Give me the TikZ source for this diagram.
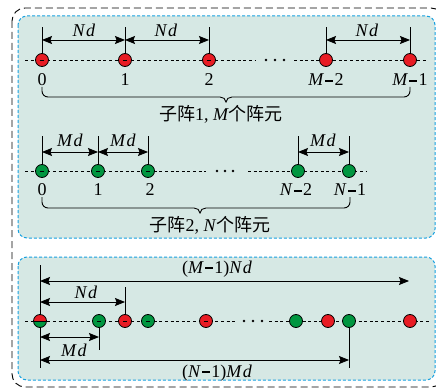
\documentclass[tikz,border=0pt]{standalone}
\usepackage{fontspec}
\setmainfont{Liberation Serif}
\newfontfamily\cjk{Noto Sans CJK SC}
\usetikzlibrary{arrows.meta}
\definecolor{panelfill}{RGB}{214,232,228}
\definecolor{paneledge}{RGB}{22,160,224}
\definecolor{dotred}{RGB}{232,28,36}
\definecolor{dotgreen}{RGB}{0,150,64}
\newcommand\mmin{\kern0.06em\rule[0.24em]{0.45em}{0.11em}\kern0.06em}
\newcommand\vN{\textit{N}}
\newcommand\vM{\textit{M}}
\newcommand\dd[1]{\textit{#1\kern1.5pt d}}
\newcommand\cj[1]{{\cjk\fontsize{18}{20}\selectfont #1}}
\begin{document}
\begin{tikzpicture}[x=1pt,y=-1pt,
  font=\fontsize{18}{20}\selectfont,
  panel/.style={draw=paneledge,fill=panelfill,dash pattern=on 3pt off 2pt,line width=1pt,rounded corners=9pt},
  outer/.style={draw=black,dash pattern=on 7pt off 4pt,line width=0.9pt,rounded corners=13pt},
  dotbase/.style={circle,draw=black,line width=0.8pt,minimum size=13pt,inner sep=0pt},
  rdot/.style={dotbase,fill=dotred},
  gdot/.style={dotbase,fill=dotgreen},
  mk/.style={path picture={\draw[line width=0.9pt] ([xshift=-2.2pt]path picture bounding box.center) -- ([xshift=2.2pt]path picture bounding box.center);}},
  hdot/.style={dotbase,path picture={
      \fill[dotred] (path picture bounding box.north west) rectangle (path picture bounding box.east);
      \fill[dotgreen] (path picture bounding box.west) rectangle (path picture bounding box.south east);
      \draw[line width=0.9pt] (path picture bounding box.west) -- (path picture bounding box.east);}},
  axis/.style={dash pattern=on 3pt off 2.6pt,line width=0.7pt},
  tickline/.style={line width=0.9pt},
  dim/.style={line width=0.9pt,{Stealth[length=10pt,width=8pt,inset=1.5pt]}-{Stealth[length=10pt,width=8pt,inset=1.5pt]}},
  bracel/.style={line width=0.9pt},
  lab/.style={inner sep=0pt}
]
\useasboundingbox (0,0) rectangle (436,390);
\draw[outer] (12,8) rectangle (444,387);
\path[panel] (18,16) rectangle (435,238);
\path[panel] (18,257) rectangle (435,380);

% ---------------- row 1 ----------------
\coordinate (a1s) at (25,60); \coordinate (a1e) at (256,60);
\coordinate (a1s2) at (294,60); \coordinate (a1e2) at (428,60);
\draw[axis] (a1s) -- (a1e);
\draw[axis] (a1s2) -- (a1e2);
\foreach \x in {266,275,284} \fill (\x,60) circle (1.4pt);
\node[rdot,mk] (p0) at (42,60) {};
\node[rdot,mk] (p1) at (125,60) {};
\node[rdot,mk] (p2) at (209,60) {};
\node[rdot] (p3) at (326,60) {};
\node[rdot] (p4) at (410,60) {};
\foreach \n/\x in {p0/42,p1/125,p2/209,p3/326,p4/410} {
  \coordinate (\n t) at (\x,27);
  \coordinate (\n a) at (\x,40);
  \draw[tickline] (\n.north) -- (\n t);
}
\draw[dim] (p0a) -- (p1a);
\draw[dim] (p1a) -- (p2a);
\draw[dim] (p3a) -- (p4a);
\node[lab] (n1) at (84,30) {\dd{N}};
\node[lab] (n2) at (166,30) {\dd{N}};
\node[lab] (n3) at (367,30) {\dd{N}};
\node[lab] (l0) at (42,80) {0};
\node[lab] (l1) at (125,80) {1};
\node[lab] (l2) at (209,80) {2};
\node[lab] (l3) at (326,80) {\vM\mmin 2};
\node[lab] (l4) at (410,80) {\vM\mmin 1};
\coordinate (b1l) at (42,87); \coordinate (b1r) at (410,87);
\draw[bracel] (b1l) -- (42,91) to[out=-90,in=180] (48,97) -- (220,97)
  to[out=0,in=90] (226,102) to[out=90,in=180] (232,97) -- (404,97)
  to[out=0,in=-90] (410,91) -- (b1r);
\node[lab] (c1) at (221,114) {\cj{子阵}1, \vM\cj{个阵元}};

% ---------------- row 2 ----------------
\coordinate (a2s) at (25,171); \coordinate (a2e) at (206,171);
\coordinate (a2s2) at (248,171); \coordinate (a2e2) at (366,171);
\draw[axis] (a2s) -- (a2e);
\draw[axis] (a2s2) -- (a2e2);
\foreach \x in {217,225,233} \fill (\x,171) circle (1.4pt);
\node[gdot,mk] (g0) at (42,171) {};
\node[gdot,mk] (g1) at (98,171) {};
\node[gdot,mk] (g2) at (148,171) {};
\node[gdot] (g3) at (298,171) {};
\node[gdot] (g4) at (349,171) {};
\foreach \n/\x in {g0/42,g1/98,g2/148,g3/298,g4/349} {
  \coordinate (\n t) at (\x,136);
  \coordinate (\n a) at (\x,152);
  \draw[tickline] (\n.north) -- (\n t);
}
\draw[dim] (g0a) -- (g1a);
\draw[dim] (g1a) -- (g2a);
\draw[dim] (g3a) -- (g4a);
\node[lab] (m1) at (70,140) {\dd{M}};
\node[lab] (m2) at (123,140) {\dd{M}};
\node[lab] (m3) at (323,140) {\dd{M}};
\node[lab] (k0) at (42,190) {0};
\node[lab] (k1) at (98,190) {1};
\node[lab] (k2) at (150,190) {2};
\node[lab] (k3) at (296,190) {\vN\mmin 2};
\node[lab] (k4) at (350,190) {\vN\mmin 1};
\coordinate (b2l) at (42,197); \coordinate (b2r) at (350,197);
\draw[bracel] (b2l) -- (42,202) to[out=-90,in=180] (48,208) -- (194,208)
  to[out=0,in=90] (200,213) to[out=90,in=180] (206,208) -- (344,208)
  to[out=0,in=-90] (350,202) -- (b2r);
\node[lab] (c2) at (210,225) {\cj{子阵}2, \vN\cj{个阵元}};

% ---------------- panel 2 ----------------
\coordinate (a3s) at (25,321); \coordinate (a3e) at (236,321);
\coordinate (a3s2) at (269,321); \coordinate (a3e2) at (430,321);
\draw[axis] (a3s) -- (a3e);
\draw[axis] (a3s2) -- (a3e2);
\foreach \x in {244,253,262} \fill (\x,321) circle (1.4pt);
\coordinate (v0t) at (40,265); \coordinate (v0b) at (40,368);
\draw[tickline] (v0t) -- (v0b);
\node[hdot] (q0) at (40,321) {};
\node[gdot,mk] (q1) at (99,321) {};
\node[rdot,mk] (q2) at (125,321) {};
\node[gdot,mk] (q3) at (148,321) {};
\node[rdot,mk] (q4) at (206,321) {};
\node[gdot] (q5) at (296,321) {};
\node[rdot] (q6) at (328,321) {};
\node[gdot] (q7) at (349,321) {};
\node[rdot] (q8) at (410,321) {};
\coordinate (v1t) at (125,287); \draw[tickline] (v1t) -- (q2.north);
\coordinate (v2b) at (99,350); \draw[tickline] (q1.south) -- (v2b);
\coordinate (v3b) at (349,368); \draw[tickline] (q7.south) -- (v3b);
\coordinate (e1l) at (40,281); \coordinate (e1r) at (409,281);
\coordinate (e2l) at (40,302); \coordinate (e2r) at (125,302);
\coordinate (e3l) at (40,337); \coordinate (e3r) at (99,337);
\coordinate (e4l) at (40,360); \coordinate (e4r) at (349,360);
\draw[dim] (e1l) -- (e1r);
\draw[dim] (e2l) -- (e2r);
\draw[dim] (e3l) -- (e3r);
\draw[dim] (e4l) -- (e4r);
\node[lab] (t1) at (217,269) {(\vM\mmin 1)\dd{N}};
\node[lab] (t2) at (86,292) {\dd{N}};
\node[lab] (t3) at (74,350) {\dd{M}};
\node[lab] (t4) at (217,373) {(\vN\mmin 1)\dd{M}};
\end{tikzpicture}
\end{document}
